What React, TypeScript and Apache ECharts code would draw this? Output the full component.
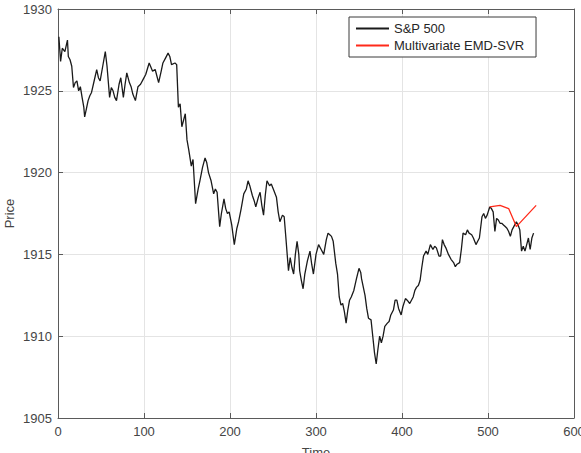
import React, { useEffect, useRef } from "react";
import * as echarts from "echarts";

const timeIdx = [
  1, 3, 5, 8, 11, 12, 14, 16, 18, 20, 22, 24, 26, 28, 30, 31, 33, 35, 37, 39,
  42, 45, 47, 49, 52, 55, 57, 60, 62, 64, 66, 68, 71, 73, 76, 78, 80, 83, 85, 87,
  90, 93, 96, 99, 102, 106, 110, 113, 117, 120, 122, 125, 128, 130, 132, 136, 138, 140, 142, 144,
  146, 148, 150, 152, 155, 157, 160, 163, 165, 168, 171, 173, 175, 178, 181, 183, 185, 188, 190, 193,
  195, 197, 199, 202, 205, 208, 210, 213, 216, 219, 221, 223, 226, 228, 230, 233, 235, 237, 239, 241,
  243, 246, 248, 251, 254, 256, 258, 261, 263, 265, 268, 270, 272, 274, 276, 278, 280, 281, 283, 285,
  287, 290, 293, 295, 297, 300, 303, 306, 309, 312, 314, 316, 318, 320, 323, 325, 327, 329, 331, 333,
  335, 337, 339, 341, 344, 347, 350, 352, 353, 355, 357, 359, 361, 364, 366, 368, 370, 372, 374, 376,
  378, 380, 383, 385, 387, 390, 392, 394, 396, 399, 401, 404, 406, 409, 411, 413, 415, 417, 419, 421,
  423, 425, 428, 430, 433, 436, 438, 440, 443, 445, 447, 449, 451, 454, 457, 460, 462, 464, 467, 469,
  471, 474, 476, 478, 481, 483, 486, 488, 490, 493, 495, 497, 499, 502, 504, 506, 508, 510, 512, 514,
  516, 518, 520, 522, 524, 526, 528, 530, 533, 535, 537, 539, 541, 543, 545, 547, 549, 551, 553,
];

const sp500 = [
  1928.3, 1926.8, 1927.6, 1927.4, 1928.1, 1927.1, 1926.9, 1926.5, 1925.2, 1925.5, 1925.6, 1925.0, 1925.25, 1924.6, 1924.0, 1923.4, 1923.9, 1924.4, 1924.7, 1924.9,
  1925.6, 1926.3, 1925.8, 1925.6, 1926.5, 1927.4, 1926.5, 1924.6, 1925.2, 1925.0, 1924.6, 1924.4, 1925.4, 1925.8, 1924.6, 1925.4, 1926.1, 1925.5, 1925.25, 1924.8,
  1924.4, 1925.25, 1925.4, 1925.7, 1926.0, 1926.7, 1926.2, 1926.3, 1925.5, 1926.2, 1926.7, 1927.0, 1927.3, 1927.1, 1926.6, 1926.7, 1926.6, 1924.0, 1924.2, 1922.8,
  1923.2, 1923.6, 1922.0, 1921.4, 1920.4, 1920.8, 1918.1, 1919.0, 1919.5, 1920.3, 1920.9, 1920.6, 1920.0, 1919.5, 1918.7, 1919.0, 1918.8, 1916.7, 1917.5, 1918.4,
  1917.8, 1917.5, 1917.6, 1916.8, 1915.6, 1916.6, 1917.0, 1917.8, 1918.7, 1919.0, 1919.5, 1919.2, 1918.6, 1918.3, 1917.9, 1918.5, 1918.8, 1918.0, 1917.4, 1918.6,
  1919.5, 1919.2, 1919.3, 1918.9, 1918.5, 1917.6, 1917.0, 1917.4, 1917.3, 1916.0, 1914.0, 1914.8, 1914.2, 1913.8, 1915.0, 1915.8, 1915.0, 1914.0, 1913.4, 1912.9,
  1913.8, 1914.6, 1915.2, 1914.4, 1913.8, 1915.0, 1915.6, 1915.3, 1915.0, 1915.9, 1916.3, 1916.2, 1916.1, 1915.8, 1914.45, 1913.8, 1912.4, 1911.9, 1912.0, 1911.5,
  1910.8, 1911.6, 1912.2, 1912.4, 1912.8, 1913.5, 1914.15, 1913.9, 1913.5, 1913.0, 1912.5, 1911.7, 1911.1, 1911.0, 1910.0, 1909.0, 1908.3, 1909.2, 1910.0, 1909.6,
  1910.0, 1910.6, 1910.8, 1910.9, 1911.3, 1911.6, 1912.2, 1912.2, 1911.7, 1911.3, 1911.8, 1912.3, 1912.2, 1912.0, 1912.2, 1912.4, 1912.8, 1913.0, 1913.1, 1913.4,
  1914.2, 1914.9, 1915.2, 1915.0, 1915.6, 1915.3, 1915.5, 1915.4, 1914.9, 1914.9, 1915.9, 1915.6, 1915.4, 1915.0, 1914.7, 1914.5, 1914.25, 1914.4, 1914.5, 1915.3,
  1916.3, 1916.2, 1916.5, 1916.3, 1916.2, 1916.0, 1915.6, 1915.8, 1916.0, 1917.3, 1917.5, 1917.2, 1917.4, 1917.9, 1917.8, 1917.6, 1916.4, 1917.2, 1917.1, 1916.9,
  1916.9, 1916.8, 1916.7, 1916.6, 1916.4, 1916.1, 1916.5, 1916.7, 1917.0, 1916.8, 1916.5, 1915.2, 1915.5, 1915.2, 1915.6, 1916.0, 1915.3, 1916.0, 1916.3,
];

const predTime = [502, 514, 524, 529, 533, 556];
const predValues = [1917.9, 1918.0, 1917.8, 1917.2, 1916.7, 1918.0];

const xTicks = { min: 0, max: 600, interval: 100 };
const yTicks = { min: 1905, max: 1930, interval: 5 };

const FONT = "Liberation Sans, Arial, Helvetica, sans-serif";
const AXIS_COLOR = "#5a5a5a";
const LABEL_COLOR = "#454545";

export default function App() {
  const ref = useRef<HTMLDivElement>(null);
  useEffect(() => {
    if (!ref.current) return;
    const chart = echarts.init(ref.current, undefined, { renderer: "svg" });
    const axisLine = { show: true, onZero: false, lineStyle: { color: AXIS_COLOR, width: 1 } };
    const tick = { show: true, inside: true, length: 5, lineStyle: { color: AXIS_COLOR } };
    chart.setOption({
      animation: false,
      backgroundColor: "#ffffff",
      textStyle: { fontFamily: FONT },
      grid: { left: 58, right: 7, top: 9, bottom: 35, containLabel: false, outerBoundsMode: "none" },
      legend: {
        orient: "vertical",
        left: 349,
        top: 17,
        padding: [5, 12, 5, 7],
        itemGap: 4,
        itemWidth: 33,
        itemHeight: 2,
        itemTextGap: 5,
        icon: "rect",
        backgroundColor: "#ffffff",
        borderColor: "#3a3a3a",
        borderWidth: 1,
        borderRadius: 0,
        textStyle: { fontFamily: FONT, fontSize: 13, color: "#262626" },
        data: ["S&P 500", "Multivariate EMD-SVR"],
      },
      xAxis: [
        {
          type: "value",
          ...xTicks,
          position: "bottom",
          name: "Time",
          nameLocation: "middle",
          nameGap: 28,
          nameMoveOverlap: false,
          nameTextStyle: { fontFamily: FONT, fontSize: 13, color: LABEL_COLOR },
          axisLine,
          axisTick: tick,
          axisLabel: { fontFamily: FONT, fontSize: 13, color: LABEL_COLOR, margin: 7 },
          splitLine: { show: true, lineStyle: { color: "#e4e4e4", width: 1 } },
        },
        {
          type: "value",
          ...xTicks,
          position: "top",
          axisLine,
          axisTick: tick,
          axisLabel: { show: false },
          splitLine: { show: false },
        },
      ],
      yAxis: [
        {
          type: "value",
          ...yTicks,
          position: "left",
          name: "Price",
          nameLocation: "middle",
          nameGap: 42,
          nameMoveOverlap: false,
          nameTextStyle: { fontFamily: FONT, fontSize: 13, color: LABEL_COLOR },
          axisLine,
          axisTick: tick,
          axisLabel: {
            fontFamily: FONT,
            fontSize: 13,
            color: LABEL_COLOR,
            margin: 6,
            formatter: (v: number) => String(v),
          },
          splitLine: { show: true, lineStyle: { color: "#e4e4e4", width: 1 } },
        },
        {
          type: "value",
          ...yTicks,
          position: "right",
          axisLine,
          axisTick: tick,
          axisLabel: { show: false },
          splitLine: { show: false },
        },
      ],
      series: [
        {
          name: "S&P 500",
          type: "line",
          xAxisIndex: 0,
          yAxisIndex: 0,
          showSymbol: false,
          color: "#1a1a1a",
          lineStyle: { color: "#1a1a1a", width: 1.3 },
          data: timeIdx.map((t, i) => [t, sp500[i]]),
        },
        {
          name: "Multivariate EMD-SVR",
          type: "line",
          xAxisIndex: 0,
          yAxisIndex: 0,
          showSymbol: false,
          color: "#ff2a1a",
          lineStyle: { color: "#ff2a1a", width: 1.3 },
          data: predTime.map((t, i) => [t, predValues[i]]),
        },
      ],
    });
    return () => chart.dispose();
  }, []);
  return (
    <div
      ref={ref}
      style={{ position: "fixed", left: 0, top: 0, width: 581, height: 453 }}
    />
  );
}
